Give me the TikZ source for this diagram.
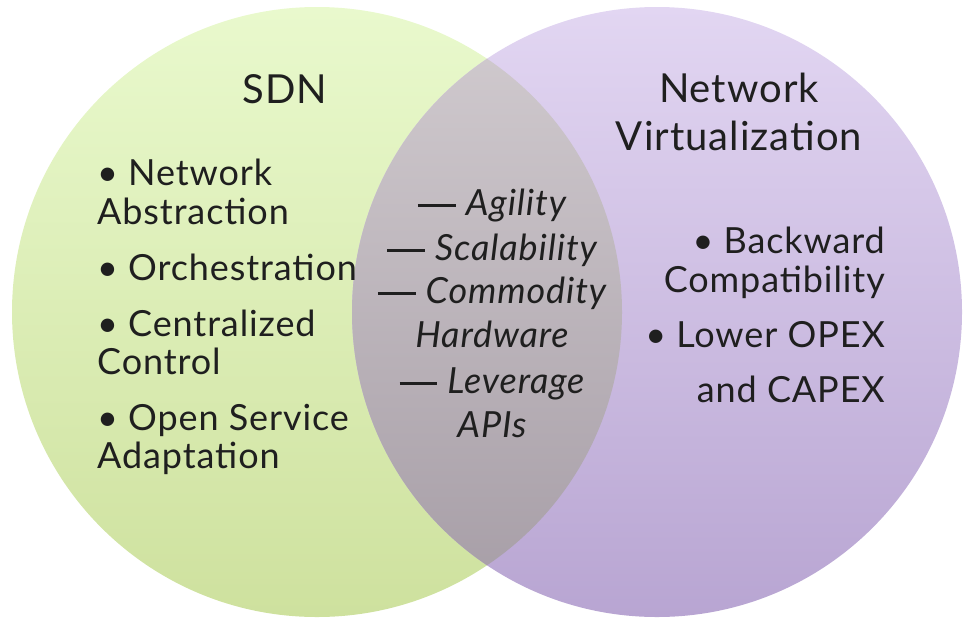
\documentclass[tikz,border=0pt]{standalone}
\usepackage{fontspec}
\setmainfont{Lato}[LetterSpace=2.5]
% a long dash drawn as a rule, raised to mid x-height
\newcommand{\longdash}{\rule[0.23em]{1.05em}{0.075em}\hspace{0.28em}}
\begin{document}
\begin{tikzpicture}[x=1pt,y=-1pt,
  txt/.style={inner sep=0pt, text=black!88, font=\fontsize{36}{40}\selectfont},
  head/.style={inner sep=0pt, text=black!88, font=\fontsize{40}{45}\selectfont},
  mid/.style={txt, font=\fontsize{36}{40}\selectfont\itshape}]
\definecolor{greentop}{HTML}{E9F9CD}
\definecolor{greenbot}{HTML}{CEE19E}
\definecolor{purptop}{HTML}{E2D6F2}
\definecolor{purpbot}{HTML}{B8A5D2}
\definecolor{graytop}{HTML}{D2CCD0}
\definecolor{graybot}{HTML}{A59CA5}
\useasboundingbox (0,0) rectangle (965,622);
% the two sets
\shade[top color=greentop, bottom color=greenbot] (317,312) circle[radius=305pt];
\shade[top color=purptop, bottom color=purpbot] (657,312) circle[radius=305pt];
% their overlap
\begin{scope}
  \clip (317,312) circle[radius=305pt];
  \shade[top color=graytop, bottom color=graybot] (657,312) circle[radius=305pt];
\end{scope}
% SDN
\node[head, anchor=base] (sdn) at (285,103) {SDN};
\node[txt, anchor=base west] (s1a) at (97,185) {• Network};
\node[txt, anchor=base west] (s1b) at (97,224) {Abstraction};
\node[txt, anchor=base west] (s2) at (97,280) {• Orchestration};
\node[txt, anchor=base west] (s3a) at (97,336) {• Centralized};
\node[txt, anchor=base west] (s3b) at (97,374) {Control};
\node[txt, anchor=base west] (s4a) at (97,430) {• Open Service};
\node[txt, anchor=base west] (s4b) at (97,468) {Adaptation};
% shared
\node[mid, anchor=base] (m1) at (492,215) {\longdash Agility};
\node[mid, anchor=base] (m2) at (492,260) {\longdash Scalability};
\node[mid, anchor=base] (m3a) at (492,303) {\longdash Commodity};
\node[mid, anchor=base] (m3b) at (492,347) {Hardware};
\node[mid, anchor=base] (m4a) at (492,393) {\longdash Leverage};
\node[mid, anchor=base] (m4b) at (492,437) {APIs};
% Network Virtualization
\node[head, anchor=base] (nv1) at (739,102) {Network};
\node[head, anchor=base] (nv2) at (739,150) {Virtualization};
\node[txt, anchor=base east] (v1a) at (885,253) {• Backward};
\node[txt, anchor=base east] (v1b) at (885,292) {Compatibility};
\node[txt, anchor=base east] (v2a) at (885,347) {• Lower OPEX};
\node[txt, anchor=base east] (v2b) at (885,402) {and CAPEX};
\end{tikzpicture}
\end{document}
